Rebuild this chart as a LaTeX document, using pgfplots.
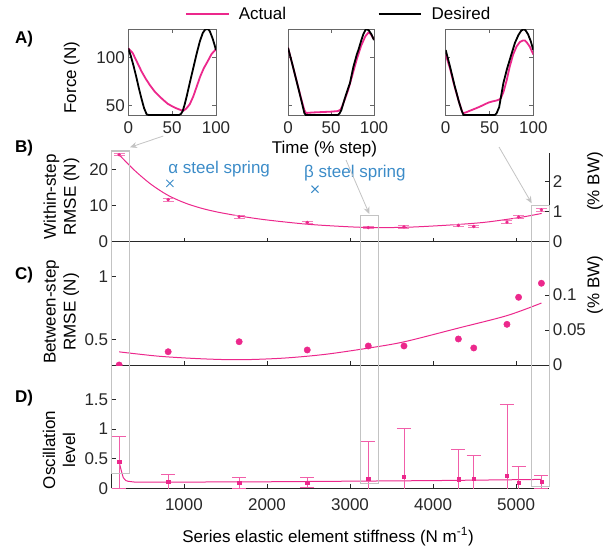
\documentclass[border=0pt]{standalone}
\usepackage{fontspec}
\setmainfont{Liberation Sans}
\usepackage{pgfplots}
\pgfplotsset{compat=1.18}
\usetikzlibrary{arrows.meta}
\definecolor{pk}{RGB}{236,40,140}
\definecolor{bl}{RGB}{60,140,200}
\definecolor{bx}{RGB}{195,195,195}
\definecolor{ax}{RGB}{40,40,40}
\newcommand\fs{\fontsize{17}{20}\selectfont}
\pgfplotsset{
  base/.style={scale only axis, anchor=south west, font=\fs, tick label style={font=\fs, color=ax},
    /pgf/number format/assume math mode=true, scaled ticks=false, tick align=inside,
    major tick length=4pt, axis line style={ax, line width=0.8pt, -}, tick style={ax, line width=0.8pt}},
  pA/.style={base, height=86.3pt, xmin=0, xmax=100, ymin=39.6, ymax=129.5,
    xtick={0,50,100}, xticklabels={0,50,100}, ytick={50,100}, axis line style={black!60},
    tick style={black!60}, xticklabel style={yshift=-2.5pt}},
  pM/.style={base, width=437.6pt, xmin=130, xmax=5400, xtick={1000,2000,3000,4000,5000}},
}
\begin{document}
\begin{tikzpicture}[x=1pt,y=1pt]
\useasboundingbox (0,0) rectangle (613,550);
% ---------- A1
\begin{axis}[pA, at={(128.3pt,434.7pt)}, width=87.7pt, yticklabels={50,100},
  legend columns=2, legend cell align=left,
  legend image code/.code={\draw[#1, line width=1.3pt] (0pt,0pt) -- (42.7pt,0pt);},
  legend style={at={(0.6465,1.174)}, anchor=west, draw=none, fill=none, font=\fs, inner sep=0pt,
    nodes={inner sep=0pt},
    /tikz/every odd column/.append style={column sep=9.6pt},
    /tikz/every even column/.append style={column sep=92pt}}]
\addplot[pk, line width=1.8pt] coordinates {(0,109.4)(5,104.5)(10,95)(15,85.5)(20,77.5)(25,70.5)(30,64.5)(35,59.8)(40,55.5)(45,51.6)(50,49)(55,46.8)(60,45)(63,44.5)(66,46.5)(70,51)(74,59)(78,69.5)(82,80)(86,88.5)(90,95)(95,103.5)(100,108.5)};
\addlegendentry{Actual}
\addplot[black, line width=1.8pt] coordinates {(0,109.4)(3,101)(6,91)(9,80)(12,68)(15,57)(18,47)(21,40.5)(23,40)(58,40)(60,41)(62,44)(64,50)(66.5,59)(70,73)(74,88.5)(78,104)(81.7,117)(85,125.5)(87.5,128.7)(89.4,129.5)(91.5,129)(93,127)(96,120)(98,114)(100,107.6)};
\addlegendentry{Desired}
\end{axis}
% ---------- A2
\begin{axis}[pA, at={(288pt,434.7pt)}, width=86pt, yticklabels={}]
\addplot[pk, line width=1.8pt] coordinates {(0,110)(5,93)(10,75.5)(15,58)(19,45)(21,42)(25,42.3)(30,42.6)(40,43)(50,43.4)(58,44)(61,45.5)(63,49)(66,56)(70,66)(75,82)(80,98)(85,112)(90,122)(93.4,125.7)(96,124.5)(100,118.5)};
\addplot[black, line width=1.8pt] coordinates {(0,110)(5,93)(10,75)(15,57)(19,42)(20.5,40)(58,40)(60,41.5)(62,45)(66,57)(70,68)(72,73)(76,90)(80,103)(82,108)(85,117)(87.6,124)(90,128.5)(91.5,129.5)(94,128)(97,124)(100,118)};
\end{axis}
% ---------- A3
\begin{axis}[pA, at={(445.7pt,434.7pt)}, width=87.6pt, yticklabels={}]
\addplot[pk, line width=1.8pt] coordinates {(0,103)(5,88)(10,70)(15,54)(19,43)(20,41.7)(24,43)(27.8,44.4)(33,46.3)(39,48.6)(44,50.8)(48.7,52.8)(53,54)(58,55)(61,56)(63,57.5)(66,64)(69.6,76)(73,90)(77,103)(81,111.5)(84.8,116)(88,117.5)(90.5,117.5)(93,115)(96,111)(100,103)};
\addplot[black, line width=1.8pt] coordinates {(0,107.6)(5,90)(10,71)(12.5,62.5)(15,54)(18,45)(20.2,40)(56.3,40)(58,41.5)(61,48)(65.8,73)(70,88)(75.3,104)(79,115)(82.9,123)(86,127.5)(88.6,129.2)(91,128.3)(94,124)(97,117)(100,107.6)};
\end{axis}
% ---------- B left
\begin{axis}[pM, at={(111.7pt,308.3pt)}, height=88.4pt, ymin=0, ymax=24.4,
  axis x line*=bottom, axis y line*=left, xticklabels={}, ytick={0,10,20}, yticklabels={0,10,20}]
\addplot[pk, line width=1pt, smooth] coordinates {(220,24.0)(400,19.8)(600,15.9)(800,12.9)(1000,10.8)(1200,9.3)(1400,8.2)(1666,7.1)(2000,6.0)(2500,4.8)(3000,4.1)(3300,3.9)(3700,4.0)(4200,4.6)(4600,5.3)(4900,6.2)(5100,6.9)(5308,7.8)};
\addplot[pk, only marks, mark=*, mark size=1.5pt,
  error bars/.cd, y dir=both, y explicit,
  error bar style={pk!60, line width=0.8pt},
  error mark options={rotate=90, mark size=5.5pt, line width=0.8pt, pk!60}]
  table[x=x, y=y, y error=e] {
x y e
220 24.0 0.3
810 11.6 0.35
1665 6.9 0.35
2485 5.3 0.35
3220 3.9 0.35
3650 4.1 0.35
4305 4.5 0.35
4490 4.2 0.35
4890 5.4 0.35
5030 6.8 0.35
5305 8.8 0.35
};
\addplot[bl, only marks, mark=x, mark size=5pt, line width=1pt] coordinates {(831,16.1)(2578,14.5)};
\node[bl, anchor=west, font=\fs, inner sep=0pt] at (axis cs:811,20.0) {α steel spring};
\node[bl, anchor=west, font=\fs, inner sep=0pt] at (axis cs:2446,18.9) {β steel spring};
\end{axis}
% ---------- B right
\begin{axis}[pM, at={(111.7pt,308.3pt)}, height=88.4pt, ymin=0, ymax=2.92,
  axis x line=none, axis y line*=right, ytick={0,1,2}, yticklabels={0,1,2}]
\addplot[draw=none] coordinates {(1000,1)};
\end{axis}
% ---------- C left
\begin{axis}[pM, at={(111.7pt,185pt)}, height=90pt, ymin=0.295, ymax=1.014,
  axis x line*=bottom, axis y line*=left, xticklabels={}, ytick={0.5,1}, yticklabels={0.5,1},
  clip marker paths=true]
\addplot[pk, line width=1pt, smooth] coordinates {(220,0.40)(700,0.365)(1200,0.345)(1666,0.337)(2200,0.35)(2700,0.38)(3220,0.43)(3650,0.48)(4305,0.59)(4892,0.69)(5305,0.79)};
\addplot[pk, only marks, mark=*, mark size=3.2pt] coordinates {(220,0.295)(810,0.401)(1665,0.481)(2485,0.415)(3220,0.447)(3650,0.447)(4305,0.503)(4490,0.431)(4890,0.62)(5030,0.836)(5305,0.948)};
\end{axis}
% ---------- C right
\begin{axis}[pM, at={(111.7pt,185pt)}, height=90pt, ymin=0, ymax=0.1286,
  axis x line=none, axis y line*=right, ytick={0,0.05,0.1}, yticklabels={0,0.05,0.1}]
\addplot[draw=none] coordinates {(1000,0.05)};
\end{axis}
% ---------- D
\begin{axis}[pM, at={(111.7pt,61.7pt)}, height=118.6pt, ymin=0, ymax=2,
  axis x line*=bottom, axis y line*=left, xticklabels={1000,2000,3000,4000,5000},
  xticklabel style={yshift=-7pt},
  ytick={0,0.5,1,1.5}, yticklabels={0,0.5,1,1.5}]
\addplot[pk, line width=1pt] coordinates {(220,0.44)(245,0.30)(269,0.18)(300,0.13)(329,0.118)(400,0.106)(1000,0.105)(2000,0.11)(3000,0.12)(4000,0.13)(5000,0.145)(5305,0.15)};
\addplot[pk, only marks, mark=square*, mark size=1.6pt,
  error bars/.cd, y dir=both, y explicit,
  error bar style={pk!75, line width=0.8pt},
  error mark options={rotate=90, mark size=7pt, line width=0.8pt, pk!75}]
  table[x=x, y=y, y error=e] {
x y e
220 0.443 0.437
810 0.106 0.124
1665 0.096 0.094
2485 0.096 0.08
3220 0.163 0.633
3650 0.19 0.82
4305 0.152 0.508
4490 0.168 0.388
4890 0.207 1.203
5030 0.096 0.279
5305 0.106 0.108
};
\end{axis}
% ---------- highlight boxes and arrows
\draw[bx, line width=1.2pt] (111.7,399) rectangle (129.3,76.7);
\draw[bx, line width=1.2pt] (360.7,334.3) rectangle (378.3,66.7);
\draw[bx, line width=1.2pt] (531.7,344.3) rectangle (549.3,63.3);
\draw[bx, line width=0.8pt, -{Stealth[length=7pt,width=6pt]}] (163.3,414) -- (130,402.7);
\draw[bx, line width=0.8pt, -{Stealth[length=7pt,width=6pt]}] (346,390) -- (369.3,336);
\draw[bx, line width=0.8pt, -{Stealth[length=7pt,width=6pt]}] (499,403) -- (531.7,346.7);
% ---------- texts
\node[font=\fs\bfseries, anchor=west, inner sep=0pt] at (15,511) {A)};
\node[font=\fs\bfseries, anchor=west, inner sep=0pt] at (15,402) {B)};
\node[font=\fs\bfseries, anchor=west, inner sep=0pt] at (15,275) {C)};
\node[font=\fs\bfseries, anchor=west, inner sep=0pt] at (15,152) {D)};
\node[font=\fs, rotate=90, inner sep=0pt] at (71.7,472.5) {Force (N)};
\node[font=\fs, rotate=90, align=center, inner sep=0pt] at (61.5,353) {Within-step\\RMSE (N)};
\node[font=\fs, rotate=90, align=center, inner sep=0pt] at (61.5,238) {Between-step\\RMSE (N)};
\node[font=\fs, rotate=90, align=center, inner sep=0pt] at (59,100) {Oscillation\\level};
\node[font=\fs, rotate=90, inner sep=0pt] at (595,368.5) {(\% BW)};
\node[font=\fs, rotate=90, inner sep=0pt] at (595,265) {(\% BW)};
\node[font=\fs, inner sep=0pt] at (324.5,401) {Time (\% step)};
\node[font=\fs, inner sep=0pt] at (328,13.3) {Series elastic element stiffness (N m\textsuperscript{-1})};
\end{tikzpicture}
\end{document}
